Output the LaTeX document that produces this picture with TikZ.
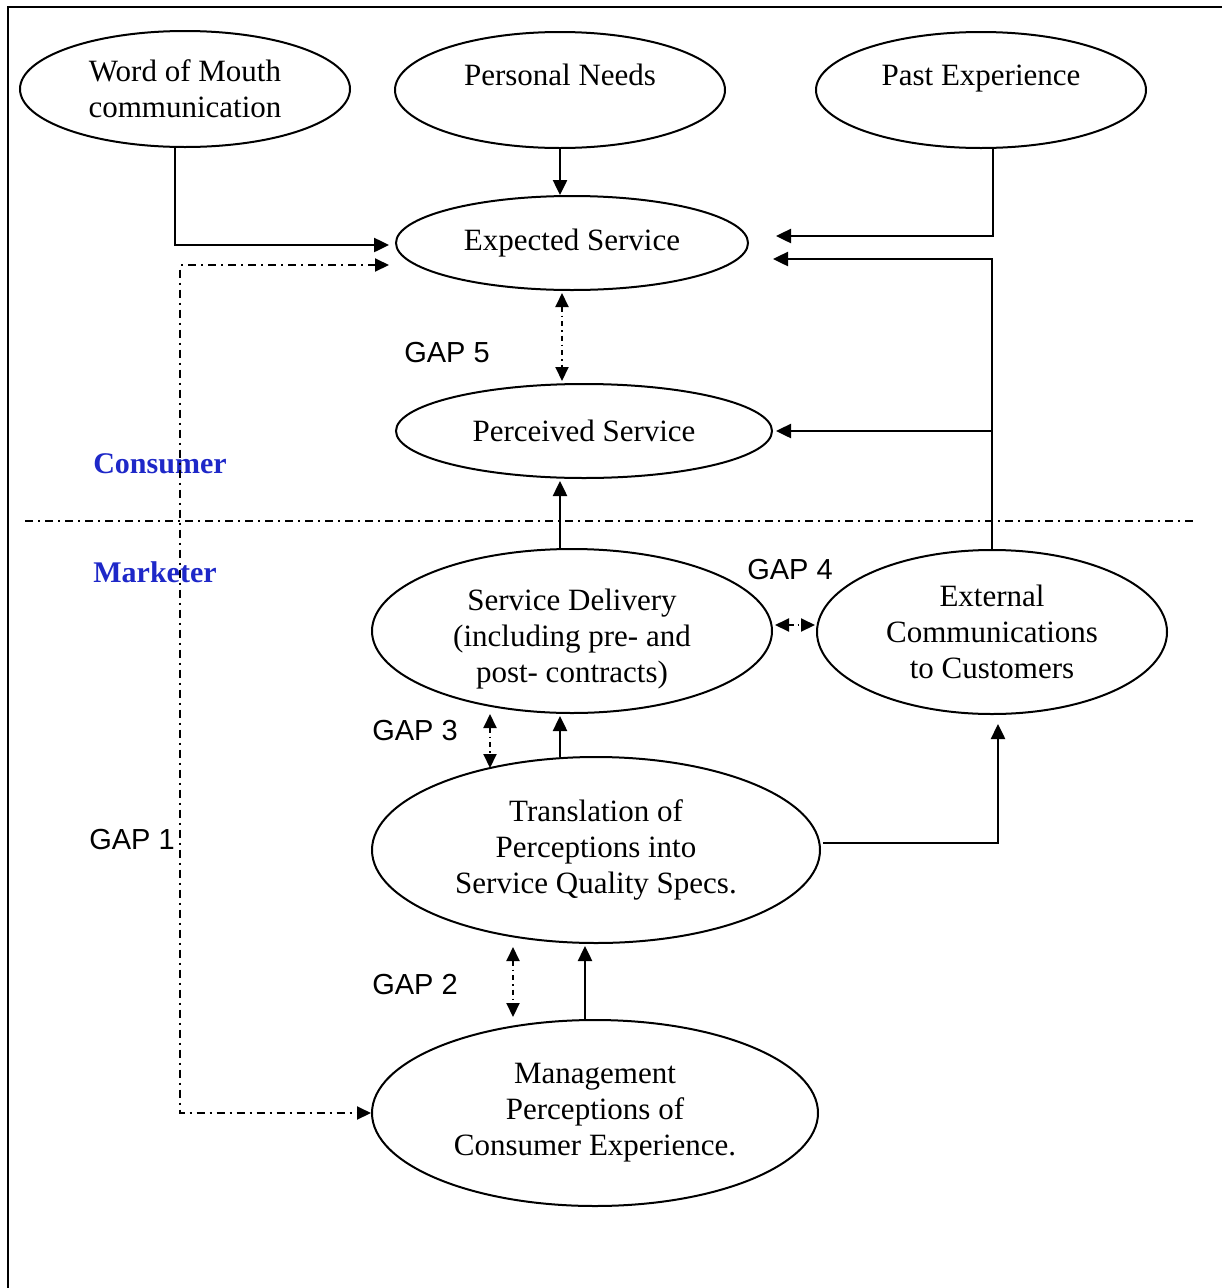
\documentclass[tikz,border=0pt]{standalone}
\usepackage{fontspec}
\setmainfont{Liberation Serif}
\newfontfamily\gapfont{Liberation Sans}
\usetikzlibrary{shapes.geometric,arrows.meta,calc}
\definecolor{sideblue}{RGB}{30,40,200}
\tikzset{
  ell/.style={draw, ellipse, line width=2pt, inner sep=0pt, align=center,
    font=\fontsize{31}{36}\selectfont},
  arr/.style={line width=2.5pt, -{Triangle[length=15pt,width=14pt]}},
  gaparr/.style={line width=2pt, dash pattern=on 5pt off 4pt on 1.5pt off 4pt,
    {Triangle[length=14pt,width=13pt]}-{Triangle[length=14pt,width=13pt]}},
  gapone/.style={line width=2pt, dash pattern=on 8pt off 5pt on 2pt off 5pt,
    {Triangle[length=14pt,width=13pt]}-{Triangle[length=14pt,width=13pt]}},
  divline/.style={line width=2pt, dash pattern=on 8pt off 5pt on 2pt off 5pt},
  gaplbl/.style={font=\gapfont\fontsize{29}{34}\selectfont, inner sep=0pt},
  sidelbl/.style={font=\bfseries\fontsize{30}{34}\selectfont, text=sideblue, inner sep=0pt},
}
\begin{document}
\begin{tikzpicture}[x=1pt,y=-1pt]
\useasboundingbox (0,0) rectangle (1222,1288);
% frame (top and left edges)
\coordinate (fr1) at (8,1288);
\coordinate (fr2) at (8,7);
\coordinate (fr3) at (1222,7);
\draw[line width=1.8pt] (fr1) -- (fr2) -- (fr3);

% ellipses
\node[ell, minimum width=330, minimum height=116] (wom) at (185,89) {Word of Mouth\\communication};
\node[ell, minimum width=330, minimum height=116] (pn) at (560,90) {Personal Needs\\[-6pt]~};
\node[ell, minimum width=330, minimum height=116] (pe) at (981,90) {Past Experience\\[-6pt]~};
\node[ell, minimum width=352, minimum height=94] (es) at (572,243) {Expected Service};
\node[ell, minimum width=376, minimum height=94] (ps) at (584,431) {Perceived Service};
\node[ell, minimum width=400, minimum height=164] (sd) at (572,631) {~\\[1pt]Service Delivery\\(including pre- and\\post- contracts)};
\node[ell, minimum width=350, minimum height=164] (ec) at (992,632) {External\\Communications\\to Customers};
\node[ell, minimum width=448, minimum height=186] (tr) at (596,850) {Translation of\\Perceptions into\\Service Quality Specs.};
\node[ell, minimum width=446, minimum height=186] (mp) at (595,1113) {Management\\Perceptions of\\Consumer Experience.};

% divider
\coordinate (d1) at (25,521);
\coordinate (d2) at (1195,521);
\draw[divline] (d1) -- (d2);

% labels
\node[sidelbl] (cons) at (160,464) {Consumer};
\node[sidelbl] (mark) at (155,572) {Marketer};
\node[gaplbl] (g5) at (447,353) {GAP 5};
\node[gaplbl] (g4) at (790,570) {GAP 4};
\node[gaplbl] (g3) at (415,731) {GAP 3};
\node[gaplbl] (g2) at (415,985) {GAP 2};
\node[gaplbl] (g1) at (132,840) {GAP 1};

% solid connectors
\draw[arr] ([xshift=-10pt]wom.south) |- ($(es.west)+(-6,2)$);
\draw[arr] (pn.south) -- (pn.south |- es.north);
\draw[arr] ([xshift=12pt]pe.south) |- ($(es.east)+(27,-7)$);
\draw[arr] (ec.north) |- ($(es.east)+(24,16)$);
\draw[arr] (ec.north |- ps.east) -- ($(ps.east)+(3,0)$);
\draw[arr] ($(sd.north)+(-12,0)$) -- ($(ps.south)+(-24,2)$);
\draw[arr] ($(tr.north)+(-36,1)$) -- ($(sd.south)+(-12,2)$);
\draw[arr] ($(tr.east)+(2,-7)$) -| ($(ec.south)+(6,9)$);
\draw[arr] ($(mp.north)+(-10,0)$) -- ($(tr.south)+(-11,2)$);

% gap connectors
\draw[gaparr] ($(es.south)+(-10,2)$) -- ($(ps.north)+(-22,-2)$);
\draw[gaparr] ($(sd.east)+(2,-6)$) -- ($(ec.west)+(-1,-7)$);
\draw[gaparr] ($(sd.south)+(-82,0)$) -- ($(tr.north)+(-106,12)$);
\draw[gaparr] ($(tr.south)+(-83,3)$) -- ($(mp.north)+(-82,-2)$);
\coordinate (gc) at (180,600);
\draw[gapone] ($(es.west)+(-6,22)$) -| (gc) |- (mp.west);
\end{tikzpicture}
\end{document}
